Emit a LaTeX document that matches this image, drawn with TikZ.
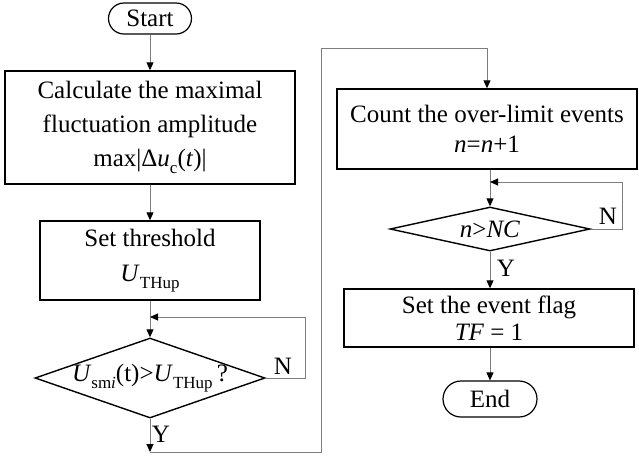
\documentclass[tikz,border=0pt]{standalone}
\usepackage{fontspec}
\setmainfont{Liberation Serif}
\usetikzlibrary{shapes.geometric,arrows.meta}
\definecolor{conn}{RGB}{125,125,125}
\newcommand{\sbs}[1]{\raisebox{-0.3em}{\fontsize{17}{17}\selectfont #1}}
\begin{document}
\begin{tikzpicture}[x=1pt,y=-1pt,
  font=\fontsize{25}{34}\selectfont,
  box/.style={draw=black,line width=1.4pt,inner sep=0pt,align=center},
  term/.style={draw=black,line width=1.2pt,inner sep=0pt,align=center},
  dia/.style={diamond,draw=black,line width=1.4pt,inner sep=0pt,align=center},
  conn/.style={draw=conn,line width=0.9pt},
  arr/.style={conn,-{Triangle[length=8pt,width=7pt,color=black]}},
  lbl/.style={inner sep=0pt}]
\useasboundingbox (0,0) rectangle (639,459);
% left column
\node[term,minimum width=83,minimum height=31,rounded corners=15.5] (start) at (150,18.5) {Start};
\node[box,minimum width=290,minimum height=113] (b1) at (150,127.5)
  {Calculate the maximal\\fluctuation amplitude\\max|Δ\textit{u}\sbs{c}(\textit{t})|};
\node[box,minimum width=220,minimum height=79,font=\fontsize{25}{35}\selectfont] (b2) at (150,260.5)
  {Set threshold\\\textit{U}\sbs{THup}};
\node[dia,minimum width=230,minimum height=80,
  label={center:\textit{U}\sbs{sm\textit{i}}(t)>\textit{U}\sbs{THup}\,?}] (d1) at (150,378) {};
\coordinate (r1) at (305,317);
\coordinate (l1) at (150,317);
\coordinate (y1) at (150,452);
\coordinate (c2) at (321,48);
\node[lbl] (n1) at (283,366) {N};
\node[lbl] (yl1) at (161,434) {Y};
% right column
\node[box,minimum width=300,minimum height=80,font=\fontsize{25}{30}\selectfont] (b3) at (487,129)
  {Count the over-limit events\\\textit{n}=\textit{n}+1};
\node[dia,minimum width=200,minimum height=44,
  label={center:\textit{n}>\textit{NC}}] (d2) at (490,229) {};
\coordinate (r2) at (622,182);
\coordinate (l2) at (490,182);
\node[lbl] (n2) at (608,216) {N};
\node[lbl] (yl2) at (506,268) {Y};
\node[box,minimum width=290,minimum height=58,font=\fontsize{25}{27}\selectfont] (b4) at (489,318)
  {Set the event flag\\\textit{TF} = 1};
\node[term,minimum width=94,minimum height=36,rounded corners=18] (end) at (490,399) {End};
% connectors
\draw[arr] (start) -- (b1);
\draw[arr] (b1) -- (b2);
\draw[arr] (b2) -- (d1);
\draw[arr] (d1.east) -| (r1) -- (l1);
\draw[arr] (d1.south) -- (y1);
\draw[arr] (y1) -| (c2) -| (b3.north);
\draw[arr] (b3.south -| d2.north) -- (d2.north);
\draw[arr] (d2.east) -| (r2) -- (l2);
\draw[arr] (d2.south) -- (b4.north -| d2.south);
\draw[arr] (b4.south -| end.north) -- (end.north);
\end{tikzpicture}
\end{document}
